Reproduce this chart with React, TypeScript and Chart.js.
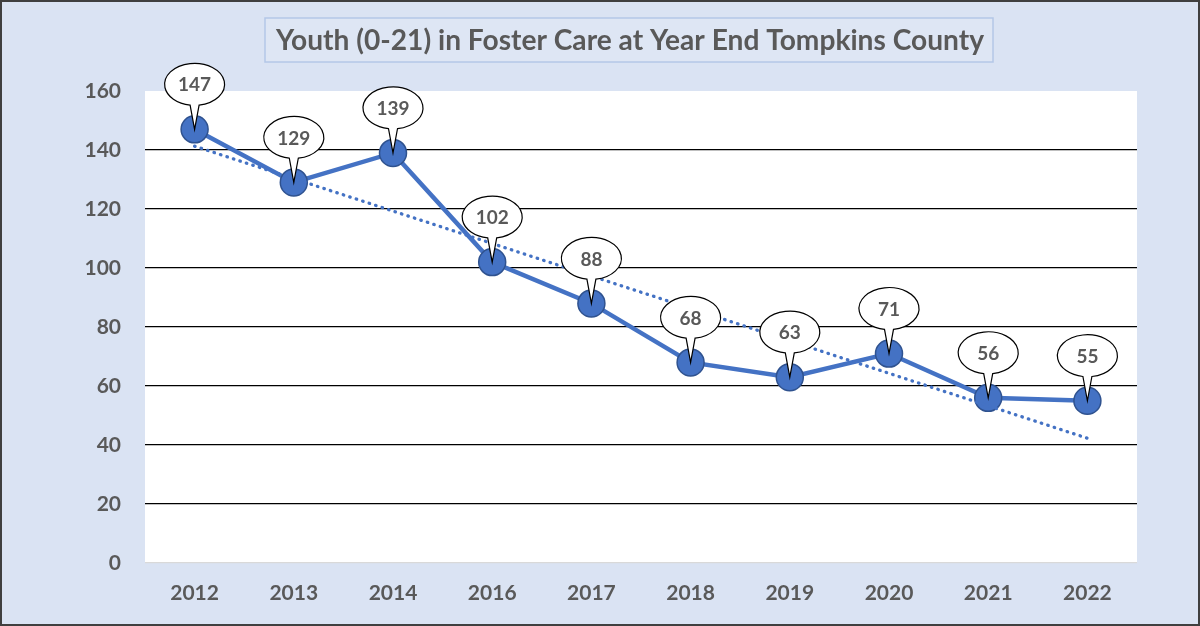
import React, { useEffect, useRef } from "react";
import { Chart, registerables } from "chart.js";

Chart.register(...registerables);

const titleText = "Youth (0-21) in Foster Care at Year End Tompkins County";
const years = ["2012", "2013", "2014", "2016", "2017", "2018", "2019", "2020", "2021", "2022"];
const youthCounts = [147, 129, 139, 102, 88, 68, 63, 71, 56, 55];
// linear trendline end values
const trendValues: (number | null)[] = [141.3, null, null, null, null, null, null, null, null, 42.3];
const yTicks = [0, 20, 40, 60, 80, 100, 120, 140, 160];

const BG = "#DAE3F3";
const BLUE = "#4472C4";
const TEXT = "#595959";

const framePlugin = {
  id: "frame",
  beforeDraw(chart: any) {
    const { ctx, width, height, chartArea } = chart;
    ctx.save();
    ctx.fillStyle = BG;
    ctx.fillRect(0, 0, width, height);
    ctx.fillStyle = "#FFFFFF";
    ctx.fillRect(chartArea.left, chartArea.top, chartArea.right - chartArea.left, chartArea.bottom - chartArea.top);
    // title box
    ctx.strokeStyle = "#B4C7E7";
    ctx.lineWidth = 1.5;
    ctx.fillStyle = "#DEE6F4";
    ctx.fillRect(265, 18, 728, 44);
    ctx.strokeRect(265, 18, 728, 44);
    ctx.font = "bold 28px Lato";
    ctx.fillStyle = TEXT;
    ctx.textAlign = "center";
    ctx.textBaseline = "middle";
    const w = ctx.measureText(titleText).width;
    const sx = 708 / w;
    ctx.translate(630, 41);
    ctx.scale(sx, 1);
    ctx.fillText(titleText, 0, 0);
    ctx.restore();
  },
  afterDraw(chart: any) {
    const { ctx, width, height } = chart;
    ctx.save();
    ctx.strokeStyle = "#3F3F3F";
    ctx.lineWidth = 2;
    ctx.strokeRect(1, 1, width - 2, height - 2);
    ctx.restore();
  },
};

const calloutPlugin = {
  id: "callouts",
  afterDatasetsDraw(chart: any) {
    const { ctx } = chart;
    const meta = chart.getDatasetMeta(0);
    const data = chart.data.datasets[0].data;
    const rx = 30;
    const ry = 21;
    const d = Math.asin(4.5 / rx);
    ctx.save();
    meta.data.forEach((pt: any, i: number) => {
      const x = pt.x;
      const y = pt.y;
      const cx = x;
      const cy = y - 45;
      ctx.beginPath();
      ctx.moveTo(x, y);
      ctx.lineTo(cx + rx * Math.cos(Math.PI / 2 - d), cy + ry * Math.sin(Math.PI / 2 - d));
      ctx.ellipse(cx, cy, rx, ry, 0, Math.PI / 2 - d, Math.PI / 2 + d, true);
      ctx.closePath();
      ctx.fillStyle = "#FFFFFF";
      ctx.fill();
      ctx.strokeStyle = "#000000";
      ctx.lineWidth = 1.2;
      ctx.stroke();
      ctx.fillStyle = TEXT;
      ctx.font = "bold 19px Lato";
      ctx.textAlign = "center";
      ctx.textBaseline = "middle";
      ctx.fillText(String(data[i]), cx, cy + 1);
    });
    ctx.restore();
  },
};

export default function App() {
  const ref = useRef<HTMLCanvasElement>(null);
  useEffect(() => {
    if (!ref.current) return;
    const chart = new Chart(ref.current, {
      type: "line",
      data: {
        labels: years,
        datasets: [
          {
            data: youthCounts,
            borderColor: BLUE,
            borderWidth: 4.5,
            pointRadius: 13.5,
            pointBackgroundColor: BLUE,
            pointBorderColor: "#2F528F",
            pointBorderWidth: 1.5,
            tension: 0,
            order: 2,
            clip: false,
          },
          {
            data: trendValues,
            borderColor: BLUE,
            borderWidth: 3.3,
            borderDash: [0.5, 6.3],
            borderCapStyle: "round",
            pointRadius: 0,
            spanGaps: true,
            order: 1,
            clip: false,
          },
        ],
      } as any,
      options: {
        responsive: false,
        animation: false,
        devicePixelRatio: 1,
        layout: { padding: { top: 91, right: 63, left: 0, bottom: 0 } },
        plugins: { legend: { display: false }, tooltip: { enabled: false }, title: { display: false } },
        scales: {
          x: {
            type: "category",
            offset: true,
            grid: { display: false, drawTicks: false },
            border: { display: false },
            ticks: { color: TEXT, font: { family: "Lato", size: 21, weight: "bold" }, padding: 18, maxRotation: 0 },
            afterFit: (s: any) => { s.height = 63; },
          },
          y: {
            min: 0,
            max: 160,
            afterBuildTicks: (s: any) => { s.ticks = yTicks.map((v) => ({ value: v })); },
            grid: {
              drawTicks: false,
              lineWidth: 1.3,
              color: (c: any) => (c.tick && c.tick.value === 0 ? "#D9D9D9" : c.tick && c.tick.value === 160 ? "rgba(0,0,0,0)" : "#000000"),
            },
            border: { display: false },
            ticks: { color: TEXT, font: { family: "Lato", size: 21, weight: "bold" }, padding: 24 },
            afterFit: (s: any) => { s.width = 145; },
          },
        },
      } as any,
      plugins: [framePlugin, calloutPlugin],
    });
    return () => chart.destroy();
  }, []);
  return (
    <div style={{ position: "absolute", left: 0, top: 0, width: 1200, height: 626 }}>
      <canvas ref={ref} width={1200} height={626} style={{ display: "block" }} />
    </div>
  );
}
